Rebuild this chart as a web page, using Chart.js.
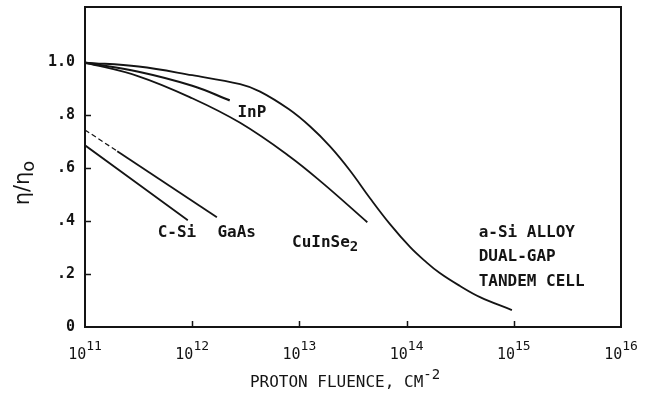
<!DOCTYPE html>
<html>
<head>
<meta charset="utf-8">
<script src="https://cdn.jsdelivr.net/npm/chart.js@4.4.1/dist/chart.umd.min.js"></script>
<style>
  html, body { margin: 0; padding: 0; background: #fff; }
</style>
</head>
<body>
<canvas id="fluence" width="657" height="396"></canvas>
<script>
const INK = '#141414';
const FONT = "'DejaVu Sans Mono', 'Liberation Mono', monospace";

// axis ticks
const decadeExponents = [11, 12, 13, 14, 15, 16];
const yTicks = [0, 0.2, 0.4, 0.6, 0.8, 1.0];

// normalised efficiency vs proton fluence (cm^-2)
const aSiFluence = [1e11, 3.16e11, 1e12, 2.8e12, 4.3e12, 8.0e12, 1.26e13, 1.93e13, 2.96e13, 4.56e13, 7.0e13, 1.08e14, 1.49e14, 2.04e14, 3.15e14, 4.84e14, 9.6e14];
const aSiEff     = [1.0, 0.985, 0.952, 0.918, 0.89, 0.823, 0.758, 0.683, 0.592, 0.487, 0.389, 0.302, 0.249, 0.204, 0.155, 0.113, 0.064];

const cisFluence = [1e11, 3.16e11, 1e12, 2.8e12, 8.1e12, 1.66e13, 4.3e13];
const cisEff     = [1.0, 0.948, 0.865, 0.772, 0.645, 0.543, 0.396];

const inpFluence = [1e11, 3.16e11, 1e12, 2.24e12];
const inpEff     = [1.0, 0.965, 0.912, 0.857];

const gaasFluence = [1e11, 2e11, 1.7e12];
const gaasEff     = [0.745, 0.665, 0.415];

const cSiFluence = [1e11, 9.1e11];
const cSiEff     = [0.687, 0.404];

const pairs = (xs, ys) => xs.map((v, i) => ({ x: v, y: ys[i] }));

function curve(xs, ys, extra) {
  return Object.assign({
    data: pairs(xs, ys),
    borderColor: INK,
    borderWidth: 1.8,
    pointRadius: 0,
    fill: false,
    tension: 0.4
  }, extra || {});
}

// text with optional raised / lowered pieces: [[text, dy], ...]
function drawRich(ctx, parts, x, y, align, size, family, weight) {
  const fam = family || FONT;
  const w = weight ? weight + ' ' : '';
  const fontFor = p => w + (p[1] ? Math.round(size * 0.85) : size) + 'px ' + fam;
  const widths = parts.map(p => {
    ctx.font = fontFor(p);
    return ctx.measureText(p[0]).width;
  });
  const total = widths.reduce((a, b) => a + b, 0);
  let cx = align === 'center' ? x - total / 2 : align === 'right' ? x - total : x;
  parts.forEach((p, i) => {
    ctx.font = fontFor(p);
    ctx.fillText(p[0], cx, y + (p[1] || 0));
    cx += widths[i];
  });
}

const curveLabels = [
  { parts: [['InP']], x: 3.6e12, y: 0.808, align: 'center' },
  { parts: [['C-Si']], x: 7.2e11, y: 0.355, align: 'center' },
  { parts: [['GaAs']], x: 2.6e12, y: 0.355, align: 'center' },
  { parts: [['CuInSe'], ['2', 5]], x: 1.74e13, y: 0.32, align: 'center' },
  { parts: [['a-Si ALLOY']], x: 4.7e14, y: 0.355, align: 'left' },
  { parts: [['DUAL-GAP']], x: 4.7e14, y: 0.264, align: 'left' },
  { parts: [['TANDEM CELL']], x: 4.7e14, y: 0.17, align: 'left' }
];

const paperAxes = {
  id: 'paperAxes',
  afterDraw(chart) {
    const { ctx, chartArea: a, scales: { x, y } } = chart;
    ctx.save();
    ctx.strokeStyle = INK;
    ctx.fillStyle = INK;

    // frame
    ctx.lineWidth = 2;
    ctx.strokeRect(a.left, a.top, a.right - a.left, a.bottom - a.top);

    // short inward ticks
    ctx.lineWidth = 1.5;
    ctx.beginPath();
    decadeExponents.slice(1, -1).forEach(e => {
      const px = Math.round(x.getPixelForValue(Math.pow(10, e))) + 0.5;
      ctx.moveTo(px, a.bottom);
      ctx.lineTo(px, a.bottom - 6);
    });
    yTicks.slice(1).forEach(v => {
      const py = Math.round(y.getPixelForValue(v)) + 0.5;
      ctx.moveTo(a.left, py);
      ctx.lineTo(a.left + 6, py);
    });
    ctx.stroke();

    // decade labels 10^n
    ctx.textBaseline = 'alphabetic';
    decadeExponents.forEach(e => {
      const px = x.getPixelForValue(Math.pow(10, e));
      drawRich(ctx, [['10'], [String(e), -9]], px, a.bottom + 32, 'center', 15);
    });

    // axis titles
    drawRich(ctx, [['PROTON FLUENCE, CM'], ['-2', -8]], (a.left + a.right) / 2 - 8, a.bottom + 60, 'center', 16);

    ctx.save();
    ctx.translate(24, 183);
    ctx.rotate(-Math.PI / 2);
    ctx.textBaseline = 'middle';
    drawRich(ctx, [['η/η'], ['o', 5]], 0, 0, 'center', 21, "'DejaVu Sans', sans-serif");
    ctx.restore();

    // curve names
    ctx.textBaseline = 'middle';
    curveLabels.forEach(l => {
      drawRich(ctx, l.parts, x.getPixelForValue(l.x), y.getPixelForValue(l.y), l.align, 16, FONT, 'bold');
    });
    ctx.restore();
  }
};

function noPadding(s) {
  s.paddingTop = 0;
  s.paddingBottom = 0;
  s.paddingLeft = 0;
  s.paddingRight = 0;
}

new Chart(document.getElementById('fluence').getContext('2d'), {
  type: 'line',
  data: {
    datasets: [
      curve(aSiFluence, aSiEff),
      curve(cisFluence, cisEff),
      curve(inpFluence, inpEff, { borderWidth: 2.2 }),
      curve(gaasFluence, gaasEff, {
        tension: 0,
        segment: {
          borderDash: c => c.p0DataIndex === 0 ? [5, 3] : undefined,
          borderWidth: c => c.p0DataIndex === 0 ? 1.2 : 1.8
        }
      }),
      curve(cSiFluence, cSiEff)
    ]
  },
  options: {
    responsive: false,
    animation: false,
    devicePixelRatio: 1,
    layout: { padding: { top: 7, right: 36, left: 0, bottom: 0 } },
    plugins: {
      legend: { display: false },
      title: { display: false },
      tooltip: { enabled: false }
    },
    scales: {
      x: {
        type: 'logarithmic',
        min: 1e11,
        max: 1e16,
        grid: { display: false },
        border: { display: false },
        ticks: { display: false },
        afterFit(s) { s.height = 69; noPadding(s); }
      },
      y: {
        min: 0,
        max: 1.21,
        grid: { display: false, drawTicks: false },
        border: { display: false },
        afterBuildTicks(s) { s.ticks = yTicks.map(v => ({ value: v })); },
        ticks: {
          padding: 10,
          color: INK,
          font: { family: FONT, size: 15, weight: 'bold' },
          callback: v => v === 0 ? '0' : v === 1 ? '1.0' : v.toFixed(1).slice(1)
        },
        afterFit(s) { s.width = 85; noPadding(s); }
      }
    }
  },
  plugins: [paperAxes]
});
</script>
</body>
</html>
